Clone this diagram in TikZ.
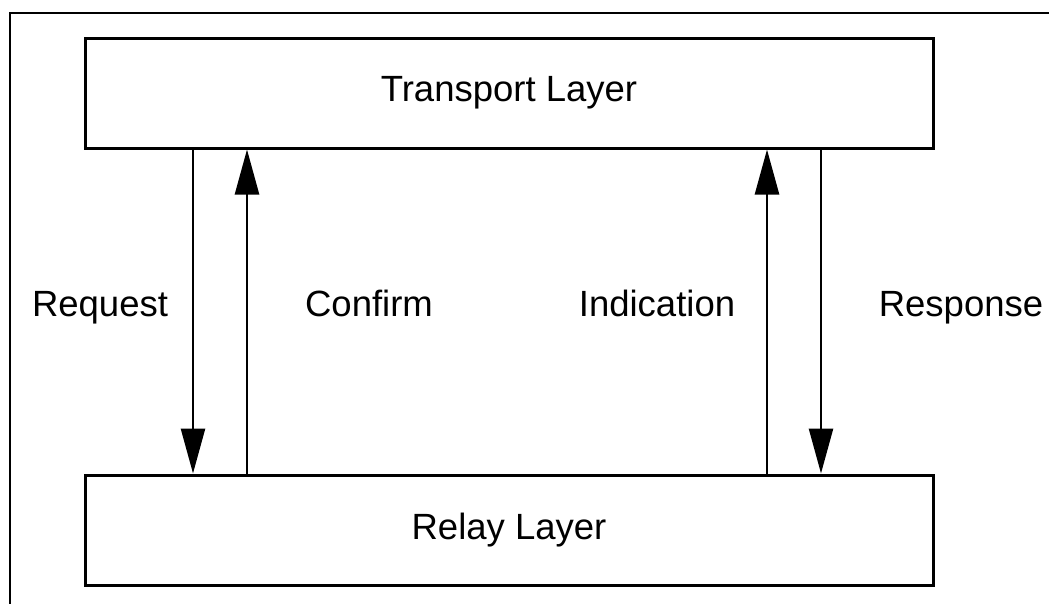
\documentclass[tikz,border=0pt]{standalone}
\usepackage{fontspec}
\setmainfont{Liberation Sans}
\usetikzlibrary{arrows.meta}
\begin{document}
\begin{tikzpicture}[x=1pt,y=-1pt,
  layer/.style={draw, line width=3pt, minimum width=848pt, minimum height=110pt, inner sep=0pt, font=\fontsize{36.5}{40}\selectfont},
  lbl/.style={font=\fontsize{36.5}{40}\selectfont, inner sep=0pt, anchor=base},
  arr/.style={line width=2.6pt, -{Triangle[length=45pt,width=24pt]}}]
\useasboundingbox (0,0) rectangle (1049,603);
\draw[line width=2pt] (10,620) -- (10,13) -- (1060,13);
\node[layer] (T) at (509,93) {\raisebox{3pt}{Transport Layer}};
\node[layer] (R) at (509,530) {\raisebox{3pt}{Relay Layer}};
\coordinate (c1) at (193,0);
\coordinate (c2) at (247,0);
\coordinate (c3) at (767,0);
\coordinate (c4) at (821,0);
\draw[arr] (T.south -| c1) -- (R.north -| c1);
\draw[arr] (R.north -| c2) -- (T.south -| c2);
\draw[arr] (R.north -| c3) -- (T.south -| c3);
\draw[arr] (T.south -| c4) -- (R.north -| c4);
\node[lbl] (l1) at (100,316) {Request};
\node[lbl] (l2) at (369,316) {Confirm};
\node[lbl] (l3) at (657,316) {Indication};
\node[lbl] (l4) at (961,316) {Response};
\end{tikzpicture}
\end{document}
